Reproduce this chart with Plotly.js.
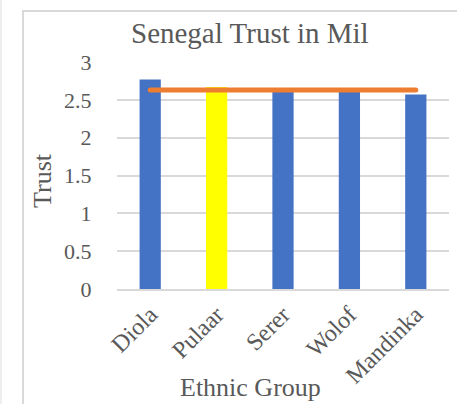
<!DOCTYPE html>
<html>
<head>
<meta charset="utf-8">
<script src="https://cdn.plot.ly/plotly-3.0.1.min.js"></script>
<style>
  html, body { margin: 0; padding: 0; background: #fff; }
  #edge { position: absolute; left: 0; top: 0; width: 2px; height: 404px; background: #eeeeee; }
  #frame { position: absolute; left: 22px; top: 10px; width: 460px; height: 420px;
           border-left: 2px solid #d9d9d9; border-top: 2px solid #d9d9d9; box-sizing: border-box; }
  #chart { position: absolute; left: 0; top: 0; width: 457px; height: 404px; }
  .js-line { stroke-linecap: round; }
</style>
</head>
<body>
<div id="edge"></div>
<div id="frame"></div>
<div id="chart"></div>
<script>
var categories = ["Diola", "Pulaar", "Serer", "Wolof", "Mandinka"];
var trustValues = [2.77, 2.67, 2.62, 2.62, 2.57];
var barColors = ["#4472C4", "#FFFF00", "#4472C4", "#4472C4", "#4472C4"];
var meanLine = [2.63, 2.63, 2.63, 2.63, 2.63];
var yTickVals = [0, 0.5, 1, 1.5, 2, 2.5, 3];
var yTickText = ["0", "0.5", "1", "1.5", "2", "2.5", "3"];

var textColor = "#595959";
var fontFam = "Liberation Serif";

var data = [
  {
    type: "bar",
    x: categories,
    y: trustValues,
    marker: { color: barColors },
    hoverinfo: "x+y"
  },
  {
    type: "scatter",
    mode: "lines",
    x: categories,
    y: meanLine,
    line: { color: "#ED7D31", width: 5 },
    hoverinfo: "y"
  }
];

var layout = {
  width: 457,
  height: 404,
  margin: { l: 117, r: 8, t: 62, b: 115 },
  paper_bgcolor: "rgba(0,0,0,0)",
  plot_bgcolor: "rgba(0,0,0,0)",
  showlegend: false,
  bargap: 0.68,
  font: { family: fontFam, color: textColor },
  xaxis: {
    type: "category",
    tickangle: -45,
    tickfont: { family: fontFam, size: 24, color: textColor },
    showgrid: false,
    showline: true,
    linecolor: "#d9d9d9",
    linewidth: 2,
    ticks: "",
    fixedrange: true
  },
  yaxis: {
    range: [0, 3],
    tickvals: yTickVals,
    ticktext: yTickText,
    tickfont: { family: fontFam, size: 22, color: textColor },
    showgrid: true,
    gridcolor: "#d9d9d9",
    gridwidth: 2,
    zeroline: false,
    showline: false,
    ticks: "outside",
    ticklen: 20,
    tickcolor: "rgba(0,0,0,0)",
    automargin: false,
    fixedrange: true
  },
  annotations: [
    {
      text: "Senegal Trust in Mil",
      xref: "paper", yref: "paper",
      x: (250 - 117) / 332, y: (289 - 33) / 227,
      xanchor: "center", yanchor: "middle",
      showarrow: false,
      font: { family: fontFam, size: 29, color: textColor }
    },
    {
      text: "Ethnic Group",
      xref: "paper", yref: "paper",
      x: (250 - 117) / 332, y: (289 - 387) / 227,
      xanchor: "center", yanchor: "middle",
      showarrow: false,
      font: { family: fontFam, size: 26, color: textColor }
    },
    {
      text: "Trust",
      xref: "paper", yref: "paper",
      x: (42 - 117) / 332, y: (289 - 181) / 227,
      xanchor: "center", yanchor: "middle",
      textangle: -90,
      showarrow: false,
      font: { family: fontFam, size: 26, color: textColor }
    }
  ]
};

Plotly.newPlot("chart", data, layout, { displayModeBar: false });
</script>
</body>
</html>
